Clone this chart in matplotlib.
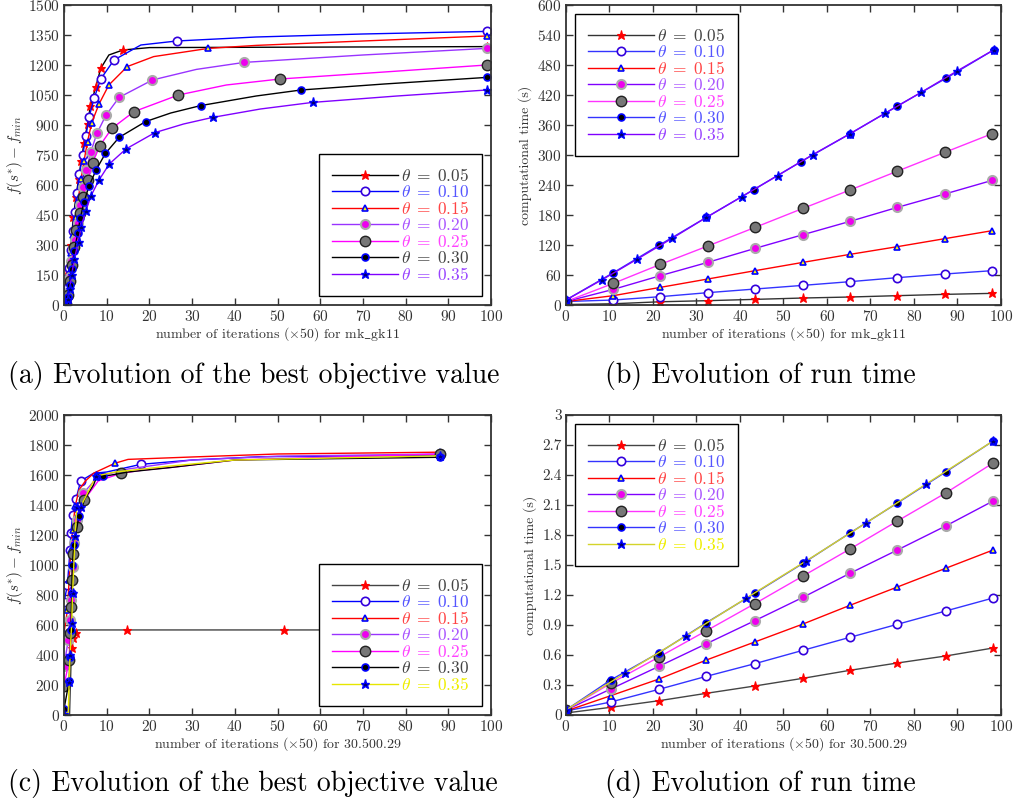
import matplotlib
matplotlib.use('Agg')
import matplotlib.pyplot as plt
from matplotlib.ticker import MultipleLocator

plt.rcParams['font.family'] = ['cmr10', 'DejaVu Serif']
plt.rcParams['mathtext.fontset'] = 'cm'
plt.rcParams['axes.formatter.use_mathtext'] = True

labels = [r'$\theta \;=\; 0.05$', r'$\theta \;=\; 0.10$', r'$\theta \;=\; 0.15$', r'$\theta \;=\; 0.20$',
          r'$\theta \;=\; 0.25$', r'$\theta \;=\; 0.30$', r'$\theta \;=\; 0.35$']

# ---- (a) best objective value, mk_gk11
a_x = [[0.3, 0.6, 1.0, 1.6, 2.2, 2.8, 3.4, 4.0, 4.7, 5.5, 6.2, 7.4, 8.6, 10.5, 13.8, 20, 99],
       [0.4, 0.6, 0.9, 1.2, 1.6, 2.0, 2.5, 3.1, 3.6, 4.4, 5.1, 5.9, 7.1, 8.6, 11.7, 18, 26.4, 45, 70, 99],
       [0.5, 0.8, 1.2, 1.6, 2.1, 2.7, 3.4, 4.0, 4.7, 5.5, 6.5, 8.2, 10.5, 14.8, 21, 33.8, 45, 70, 99],
       [0.5, 0.9, 1.3, 1.7, 2.1, 2.6, 3.2, 3.75, 4.5, 5.2, 6.3, 7.7, 9.8, 12.9, 20.7, 31, 42.2, 70, 99],
       [0.5, 0.9, 1.3, 1.8, 2.3, 2.9, 3.7, 4.4, 5.6, 6.7, 8.4, 11.2, 16.4, 26.8, 38, 50.6, 75, 99],
       [0.5, 0.9, 1.3, 1.8, 2.4, 3.2, 3.8, 4.7, 5.9, 7.5, 9.7, 12.9, 19.1, 25, 32, 45, 55.5, 75, 99],
       [0.5, 0.9, 1.3, 1.8, 2.4, 3.4, 4.0, 5.1, 6.3, 8.2, 10.6, 14.5, 21.3, 28, 34.8, 46, 58.2, 78, 99]]
a_y = [[10, 75, 175, 300, 442, 542, 628, 718, 812, 905, 997, 1088, 1183, 1250, 1275, 1287, 1292],
       [10, 33, 92, 183, 275, 372, 467, 562, 655, 750, 845, 942, 1037, 1130, 1225, 1300, 1320, 1340, 1355, 1368],
       [5, 60, 160, 260, 350, 442, 538, 630, 722, 817, 912, 1005, 1100, 1192, 1242, 1283, 1298, 1320, 1345],
       [5, 60, 140, 220, 280, 325, 412, 500, 588, 675, 767, 858, 948, 1038, 1125, 1178, 1213, 1250, 1283],
       [5, 50, 120, 200, 290, 375, 462, 542, 625, 712, 797, 883, 967, 1050, 1100, 1130, 1165, 1200],
       [5, 40, 100, 180, 270, 358, 433, 517, 597, 675, 758, 838, 917, 960, 997, 1045, 1075, 1105, 1138],
       [0, 30, 80, 150, 230, 317, 392, 470, 545, 625, 705, 780, 862, 905, 938, 980, 1013, 1045, 1075]]
a_skip = [[13, 15], [15, 17, 18], [14, 16, 17], [15, 17], [14, 16], [13, 15, 17], [13, 15, 17]]

# ---- (b) run time, mk_gk11
b_grid = [0, 10.9, 21.7, 32.6, 43.5, 54.5, 65.3, 76.2, 87.1, 98.0]
b_x = [b_grid, b_grid, b_grid, b_grid, b_grid,
       [0, 10.9, 21.5, 32.3, 43.2, 54.1, 65.2, 76.2, 87.3, 98.3],
       [0, 8.2, 16.3, 24.4, 32.3, 40.5, 48.7, 56.8, 65.2, 73.3, 81.6, 89.9, 98.3]]
b_y = [[1, 2.5, 6.5, 8.7, 11.3, 14, 16, 18.7, 21.3, 23.3],
       [7, 10, 16.7, 24.7, 32, 39.3, 46.7, 54.7, 62, 68.7],
       [7, 18.7, 35.3, 52, 68.7, 85.3, 101.3, 116.7, 132.7, 148.7],
       [7, 31.3, 58.7, 85.3, 113.3, 140.7, 167.3, 195.3, 222, 249.3],
       [7, 43.3, 81.3, 118, 155.3, 193.3, 230, 267.7, 305.3, 342.7],
       [10, 64.7, 120, 175.3, 231, 287, 342, 398, 453, 510],
       [10, 50, 91.3, 133.3, 175.3, 217, 259, 301, 342, 383, 425, 468, 510]]

# ---- (c) best objective value, 30.500.29
c_x = [[1.3, 1.6, 1.8, 2.2, 2.8, 3.2, 14.8, 51.5, 88],
       [0, 0.8, 1.4, 1.6, 2.0, 2.8, 3.9, 6.9, 10, 18, 30, 46, 88],
       [0, 0.8, 1.2, 1.6, 2.0, 2.6, 3.5, 5, 7, 11.9, 15, 30, 50, 88],
       [0, 1.0, 1.3, 1.6, 2.0, 2.3, 3.0, 4.5, 8, 15, 30, 50, 88],
       [0, 1.2, 1.4, 1.6, 1.9, 2.2, 3.0, 4.7, 8, 13.3, 18.6, 25, 40, 88],
       [0, 1.2, 1.4, 1.6, 1.8, 1.95, 2.3, 3.5, 4.9, 6.9, 7.7, 9.2, 15, 25, 40, 88],
       [0, 1.0, 1.2, 1.4, 1.8, 2.0, 2.6, 3.0, 3.9, 7.5, 12, 25, 40, 88]]
c_y = [[0, 300, 444, 511, 544, 567, 567, 567, 567],
       [753, 867, 1100, 1211, 1333, 1440, 1560, 1611, 1620, 1671, 1700, 1722, 1730],
       [549, 700, 900, 1100, 1233, 1390, 1500, 1560, 1613, 1678, 1704, 1720, 1740, 1752],
       [329, 500, 633, 767, 989, 1144, 1300, 1478, 1590, 1640, 1700, 1725, 1740],
       [193, 367, 544, 718, 900, 1073, 1256, 1433, 1560, 1611, 1633, 1650, 1700, 1740],
       [40, 227, 389, 567, 811, 1000, 1133, 1327, 1444, 1533, 1590, 1590, 1620, 1650, 1700, 1718],
       [7, 20, 222, 400, 611, 811, 1193, 1389, 1389, 1593, 1620, 1660, 1700, 1728]]
c_skip = [[0, 1, 5], [7, 8, 10, 11], [6, 7, 8, 10, 11, 12], [8, 9, 10, 11], [8, 10, 11, 12],
          [8, 9, 12, 13, 14], [1, 10, 11, 12]]

# ---- (d) run time, 30.500.29
d_grid = [0, 10.3, 21.4, 32.3, 43.4, 54.5, 65.3, 76.2, 87.3, 98.2]
d_x = [d_grid, d_grid, d_grid, d_grid, d_grid, d_grid,
       [0, 13.6, 27.6, 41.5, 55.2, 69.0, 82.8, 98.2]]
d_y = [[0.02, 0.077, 0.143, 0.217, 0.29, 0.367, 0.447, 0.52, 0.59, 0.67],
       [0.04, 0.13, 0.257, 0.387, 0.513, 0.647, 0.777, 0.907, 1.04, 1.17],
       [0.04, 0.193, 0.36, 0.55, 0.73, 0.91, 1.097, 1.28, 1.467, 1.65],
       [0.05, 0.26, 0.487, 0.713, 0.943, 1.177, 1.417, 1.65, 1.89, 2.14],
       [0.05, 0.317, 0.58, 0.843, 1.113, 1.39, 1.66, 1.94, 2.22, 2.52],
       [0.05, 0.35, 0.623, 0.923, 1.217, 1.517, 1.82, 2.12, 2.43, 2.74],
       [0.05, 0.42, 0.79, 1.17, 1.54, 1.92, 2.31, 2.74]]

markers = [dict(marker='*', ms=6.5, mfc='red', mec='red', mew=0.8),
           dict(marker='o', ms=6, mfc='white', mec='#3300dd', mew=1.2),
           dict(marker='^', ms=5, mfc='yellow', mec='blue', mew=1.2),
           dict(marker='o', ms=6.5, mfc='#ee00ee', mec='#aaaaaa', mew=1.5),
           dict(marker='o', ms=7.5, mfc='#777777', mec='#222222', mew=1),
           dict(marker='o', ms=5, mfc='black', mec='blue', mew=1.2),
           dict(marker='*', ms=6.5, mfc='#000066', mec='blue', mew=1)]

a_lines = ['black', 'blue', 'red', '#9933ff', '#ff00ff', 'black', '#8000ff']
b_lines = ['#333333', '#3333ff', 'red', '#8000ff', '#ff33ff', '#3333ff', '#8000ff']
c_lines = ['#444444', 'blue', 'red', '#9933ff', '#ff00ff', 'black', '#e6e600']
d_lines = ['#444444', '#3333ff', 'red', '#8000ff', '#ff33ff', '#3333ff', '#d4d42a']

a_text = ['#444444', '#5555ff', '#ff4444', '#aa55ff', '#ff44ff', '#444444', '#9944ff']
b_text = ['#444444', '#5555ff', '#ff4444', '#aa55ff', '#ff44ff', '#5555ff', '#9944ff']
c_text = ['#444444', '#5555ff', '#ff4444', '#aa55ff', '#ff44ff', '#444444', '#eeee00']
d_text = ['#444444', '#5555ff', '#ff4444', '#aa55ff', '#ff44ff', '#5555ff', '#eeee00']


def draw_panel(ax, xs, ys, skips, lines, text_colors, loc):
    for i in range(7):
        keep = [k for k in range(len(xs[i])) if k not in skips[i]]
        ax.plot(xs[i], ys[i], color=lines[i], lw=1.0, label=labels[i],
                markevery=keep, **markers[i])
    leg = ax.legend(loc=loc, fontsize=12.5, handlelength=3.8, fancybox=False,
                    edgecolor='black', framealpha=1, borderpad=0.75,
                    labelspacing=0.0, handletextpad=0.2, borderaxespad=0.5)
    leg.get_frame().set_linewidth(1.0)
    for t, c in zip(leg.get_texts(), text_colors):
        t.set_color(c)
    ax.tick_params(direction='in', top=True, right=True, length=5, width=1,
                   labelsize=11, pad=3, colors='#333333', labelcolor='#333333')
    for s in ax.spines.values():
        s.set_linewidth(1.3)
        s.set_color('#333333')


fig = plt.figure(figsize=(10.13, 8.05), dpi=100)
ax_a = fig.add_axes([0.0632, 0.6211, 0.4215, 0.3727])
ax_b = fig.add_axes([0.5587, 0.6211, 0.4294, 0.3727])
ax_c = fig.add_axes([0.0632, 0.1118, 0.4215, 0.3727])
ax_d = fig.add_axes([0.5587, 0.1118, 0.4294, 0.3727])

none7 = [[] for _ in range(7)]
draw_panel(ax_a, a_x, a_y, a_skip, a_lines, a_text, 'lower right')
draw_panel(ax_b, b_x, b_y, none7, b_lines, b_text, 'upper left')
draw_panel(ax_c, c_x, c_y, c_skip, c_lines, c_text, 'lower right')
draw_panel(ax_d, d_x, d_y, none7, d_lines, d_text, 'upper left')

ax_a.set_xlim(0, 100)
ax_a.set_ylim(0, 1500)
ax_a.yaxis.set_major_locator(MultipleLocator(150))
ax_b.set_xlim(0, 100)
ax_b.set_ylim(0, 600)
ax_b.yaxis.set_major_locator(MultipleLocator(60))
ax_c.set_xlim(0, 100)
ax_c.set_ylim(0, 2000)
ax_c.yaxis.set_major_locator(MultipleLocator(200))
ax_d.set_xlim(0, 100)
ax_d.set_ylim(0, 3)
ax_d.yaxis.set_major_locator(MultipleLocator(0.3))
ax_d.yaxis.set_major_formatter(plt.FuncFormatter(lambda v, p: '0' if abs(v) < 1e-9 else f'{v:g}'))
for ax in (ax_a, ax_b, ax_c, ax_d):
    ax.xaxis.set_major_locator(MultipleLocator(10))

ylab_obj = r'$f(s^{*}) - f_{min}$'
ax_a.set_ylabel(ylab_obj, fontsize=11, labelpad=2, color='#333333')
ax_c.set_ylabel(ylab_obj, fontsize=11, labelpad=2, color='#333333')
ax_b.set_ylabel('computational time (s)', fontsize=10, labelpad=4, color='#333333')
ax_d.set_ylabel('computational time (s)', fontsize=10, labelpad=4, color='#333333')
xl1 = r'number of iterations ($\times$50) for mk$\_$gk11'
xl2 = r'number of iterations ($\times$50) for 30.500.29'
ax_a.set_xlabel(xl1, fontsize=10, labelpad=1, color='#333333')
ax_b.set_xlabel(xl1, fontsize=10, labelpad=1, color='#333333')
ax_c.set_xlabel(xl2, fontsize=10, labelpad=1, color='#333333')
ax_d.set_xlabel(xl2, fontsize=10, labelpad=1, color='#333333')

fig.text(0.008, 0.534, '(a) Evolution of the best objective value', fontsize=20, va='center', ha='left')
fig.text(0.597, 0.534, '(b) Evolution of run time', fontsize=20, va='center', ha='left')
fig.text(0.008, 0.027, '(c) Evolution of the best objective value', fontsize=20, va='center', ha='left')
fig.text(0.597, 0.027, '(d) Evolution of run time', fontsize=20, va='center', ha='left')

fig.savefig('out.png', dpi=100)
